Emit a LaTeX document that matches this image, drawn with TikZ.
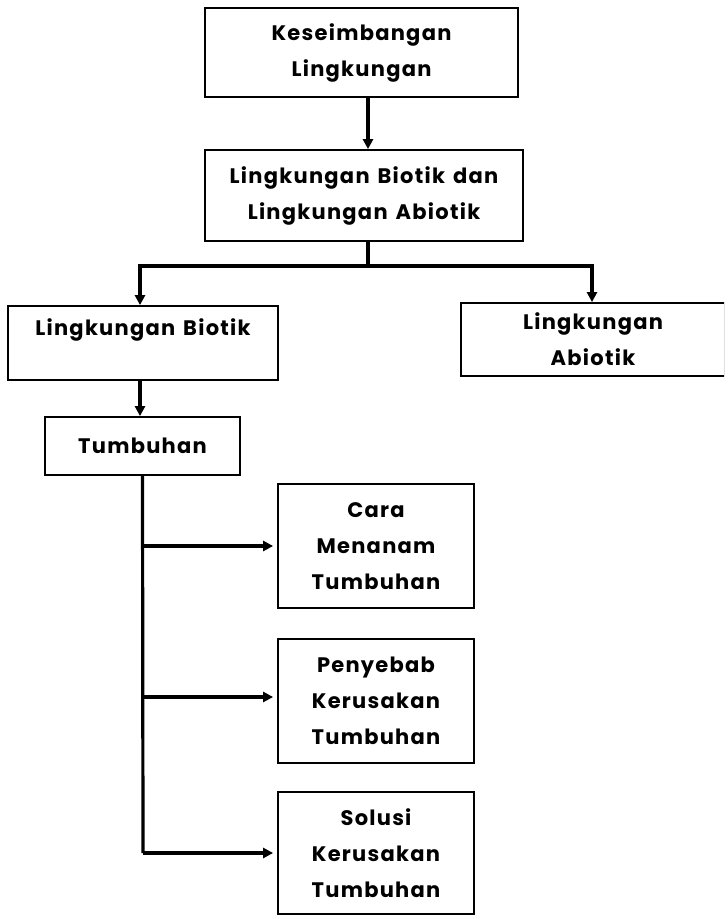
\documentclass[tikz,border=0pt]{standalone}
\usepackage{fontspec}
\setmainfont{Poppins}[LetterSpace=6,WordSpace=1.4]
\usetikzlibrary{arrows.meta}
\begin{document}
\begin{tikzpicture}[x=1pt,y=-1pt,
  box/.style={draw=black,line width=1.8pt,align=center,inner sep=0pt,
    font=\fontsize{21}{36}\selectfont\bfseries},
  conn/.style={line width=3.2pt,-{Triangle[length=10pt,width=10pt]}},
  plain/.style={line width=3.2pt}]
\clip (0,0) rectangle (724,915);
\useasboundingbox (0,0) rectangle (724,915);
\fill[white] (0,0) rectangle (724,915);
\node[box,minimum width=313pt,minimum height=89pt] (b1) at (361.5,52.5) {Keseimbangan\\Lingkungan};
\node[box,minimum width=318pt,minimum height=91pt] (b2) at (364,195.5) {Lingkungan Biotik dan\\Lingkungan Abiotik};
\node[box,minimum width=270pt,minimum height=74pt] (b3) at (143,343) {Lingkungan Biotik\\[-14pt]\strut};
\node[box,minimum width=264pt,minimum height=73pt] (b4) at (593,339.5) {Lingkungan\\Abiotik};
\node[box,minimum width=195pt,minimum height=58pt] (b5) at (142.5,446) {Tumbuhan};
\node[box,minimum width=196pt,minimum height=124pt] (b6) at (376,546) {Cara\\Menanam\\Tumbuhan};
\node[box,minimum width=196pt,minimum height=124pt] (b7) at (376,701) {Penyebab\\Kerusakan\\Tumbuhan};
\node[box,minimum width=196pt,minimum height=122pt] (b8) at (376,853) {Solusi\\Kerusakan\\Tumbuhan};
\coordinate (j) at (368,266);
\coordinate (t1) at (143,546);
\coordinate (t2) at (143,697);
\coordinate (t3) at (143,853);
\draw[conn] (368,0 |- b1.south) -- (368,0 |- b2.north);
\draw[plain] (368,0 |- b2.south) -- (j);
\draw[conn] (j) -| ([xshift=-3pt]b3.north);
\draw[conn] (j) -| ([xshift=-1pt]b4.north);
\draw[conn] ([xshift=-3pt]b3.south) -- ([xshift=-2.5pt]b5.north);
\draw[plain] (b5.south) -- (t3);
\draw[conn,shorten >=4pt] (t1) -- (b6.west |- t1);
\draw[conn,shorten >=4pt] (t2) -- (b7.west |- t2);
\draw[conn,shorten >=4pt] (t3) -- (b8.west |- t3);
\end{tikzpicture}
\end{document}
